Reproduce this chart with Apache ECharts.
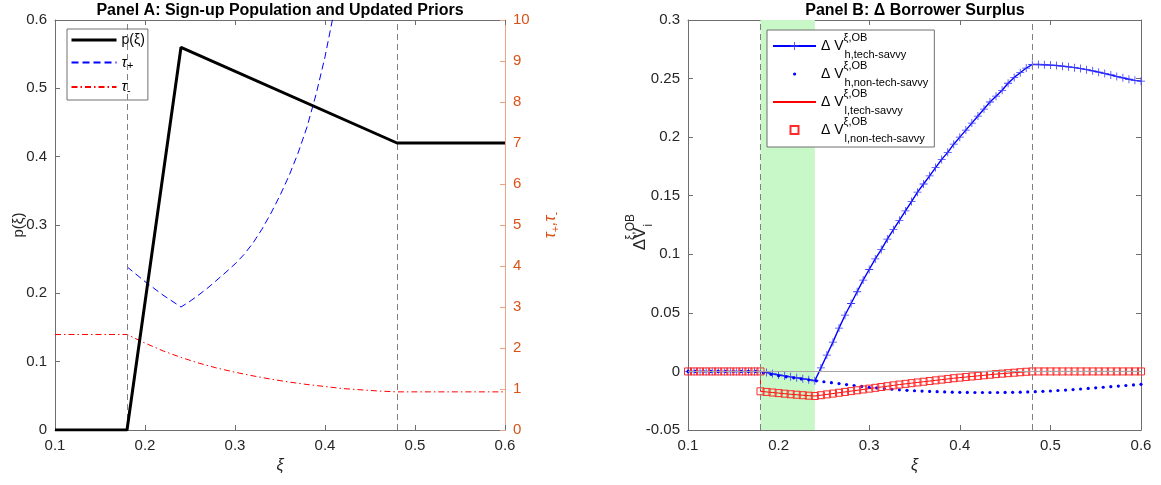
<!DOCTYPE html>
<html>
<head>
<meta charset="utf-8">
<script src="https://cdn.jsdelivr.net/npm/echarts@6/dist/echarts.min.js"></script>
<style>html,body{margin:0;padding:0;background:#fff;}#c{width:1161px;height:485px;}</style>
</head>
<body>
<div id="c"></div>
<script>
// ---------- Panel A data ----------
const xiP = [0.1, 0.18, 0.24, 0.48, 0.6];
const pVals = [0, 0, 0.56, 0.42, 0.42];

const xiTauPlus = [0.18, 0.20, 0.22, 0.24, 0.25, 0.26, 0.27, 0.28, 0.29, 0.30, 0.31, 0.32, 0.33, 0.34, 0.35, 0.36, 0.37, 0.38, 0.39, 0.40, 0.41, 0.42];
const tauPlus   = [3.98, 3.62, 3.29, 3.00, 3.14, 3.30, 3.47, 3.66, 3.85, 4.05, 4.28, 4.56, 4.90, 5.29, 5.72, 6.20, 6.75, 7.39, 8.18, 9.10, 10.2, 11.5];

const xiTauMinus = [0.1, 0.18, 0.20, 0.22, 0.24, 0.26, 0.28, 0.30, 0.32, 0.34, 0.36, 0.38, 0.40, 0.42, 0.44, 0.46, 0.48, 0.6];
const tauMinus   = [2.33, 2.33, 2.12, 1.93, 1.77, 1.63, 1.51, 1.41, 1.32, 1.24, 1.17, 1.11, 1.06, 1.01, 0.98, 0.95, 0.93, 0.93];

const cutoffs = [0.18, 0.48];
const shaded = [0.18, 0.24];

// ---------- Panel B data ----------
const xiB = [0.1, 0.1067, 0.1133, 0.12, 0.1267, 0.1333, 0.14, 0.1467, 0.1533, 0.16, 0.1667, 0.1733, 0.18,
  0.1867, 0.1933, 0.2, 0.2067, 0.2133, 0.22, 0.2267, 0.2333, 0.24,
  0.2467, 0.2533, 0.26, 0.2667, 0.2733, 0.28, 0.2867, 0.2933, 0.3, 0.3067, 0.3133, 0.32, 0.3267, 0.3333, 0.34,
  0.3467, 0.3533, 0.36, 0.3667, 0.3733, 0.38, 0.3867, 0.3933, 0.4, 0.4067, 0.4133, 0.42, 0.4267, 0.4333, 0.44,
  0.4467, 0.4533, 0.46, 0.4667, 0.4733, 0.48,
  0.4867, 0.4933, 0.5, 0.5067, 0.5133, 0.52, 0.5267, 0.5333, 0.54, 0.5467, 0.5533, 0.56, 0.5667, 0.5733, 0.58,
  0.5867, 0.5933, 0.6];

const hTech = [0, 0, 0, 0, 0, 0, 0, 0, 0, 0, 0, 0, 0,
  -0.0010, -0.0020, -0.0030, -0.0038, -0.0046, -0.0054, -0.0062, -0.0070, -0.0080,
  0.003, 0.014, 0.025, 0.037, 0.048, 0.058, 0.068, 0.078, 0.087, 0.096, 0.104, 0.113, 0.121, 0.129, 0.137,
  0.145, 0.153, 0.160, 0.167, 0.174, 0.181, 0.187, 0.194, 0.200, 0.206, 0.212, 0.218, 0.224, 0.230, 0.235,
  0.240, 0.246, 0.251, 0.255, 0.259, 0.262,
  0.2620, 0.2618, 0.2615, 0.2611, 0.2606, 0.2600, 0.2593, 0.2585, 0.2576, 0.2566, 0.2555, 0.2543, 0.2531,
  0.2518, 0.2506, 0.2494, 0.2485, 0.2478];

// l-type series: the jump at 0.18 has two values (0 and -0.017)
const xiL = xiB.slice(0, 13).concat(xiB.slice(12));
const lTech = [0, 0, 0, 0, 0, 0, 0, 0, 0, 0, 0, 0, 0,
  -0.0170,
  -0.0175, -0.0180, -0.0185, -0.0190, -0.0195, -0.0199, -0.0203, -0.0207, -0.0210,
  -0.0203, -0.0196, -0.0189, -0.0182, -0.0175, -0.0168, -0.0161, -0.0154, -0.0147, -0.0140, -0.0133, -0.0126,
  -0.0119, -0.0112, -0.0106, -0.0100, -0.0094, -0.0088, -0.0082, -0.0076, -0.0070, -0.0064, -0.0058, -0.0053,
  -0.0048, -0.0043, -0.0038, -0.0033, -0.0028, -0.0023, -0.0019, -0.0015, -0.0011, -0.0007, -0.0003, 0,
  0, 0, 0, 0, 0, 0, 0, 0, 0, 0, 0, 0, 0, 0, 0, 0, 0, 0];
const lNonTech = lTech;

const xiD = [0.1, 0.1083, 0.1167, 0.125, 0.1333, 0.1417, 0.15, 0.1583, 0.1667, 0.175, 0.1833, 0.1917, 0.2,
  0.2083, 0.2167, 0.225, 0.2333, 0.2417, 0.25, 0.2583, 0.2667, 0.275, 0.2833, 0.2917, 0.3, 0.3083, 0.3167,
  0.325, 0.3333, 0.3417, 0.35, 0.3583, 0.3667, 0.375, 0.3833, 0.3917, 0.4, 0.4083, 0.4167, 0.425, 0.4333,
  0.4417, 0.45, 0.4583, 0.4667, 0.475, 0.4833, 0.4917, 0.5, 0.5083, 0.5167, 0.525, 0.5333, 0.5417, 0.55,
  0.5583, 0.5667, 0.575, 0.5833, 0.5917, 0.6];
const hNonTech = [0, 0, 0, 0, 0, 0, 0, 0, 0, 0, -0.0013, -0.0025, -0.0036,
  -0.0046, -0.0055, -0.0064, -0.0072, -0.0080, -0.0088, -0.0096, -0.0104, -0.0112, -0.0120, -0.0128, -0.0135, -0.0141, -0.0147,
  -0.0152, -0.0157, -0.0161, -0.0165, -0.0168, -0.0171, -0.0173, -0.0175, -0.0177, -0.0178, -0.0179, -0.0180, -0.0180, -0.0180,
  -0.0180, -0.0179, -0.0178, -0.0177, -0.0175, -0.0173, -0.0170, -0.0167, -0.0163, -0.0159, -0.0155, -0.0150, -0.0145, -0.0140,
  -0.0135, -0.0130, -0.0125, -0.0120, -0.0115, -0.0110];

// ---------- helpers / styles ----------
const pairs = (xs, ys) => xs.map((x, i) => [x, ys[i]]);
const FONT = '"Liberation Sans", Arial, Helvetica, sans-serif';
const AX = '#6e6e6e';
const TXT = '#262626';
const ORANGE = '#D95319';
const crossPath = 'path://M4.5,0h1v10h-1zM0,4.5h10v1h-10z';

function xAx(grid, pos, showLabel, name) {
  return {
    type: 'value', gridIndex: grid, position: pos, min: 0.1, max: 0.6, interval: 0.1,
    axisLine: { show: true, onZero: false, lineStyle: { color: AX, width: 1 } },
    axisTick: { show: true, inside: true, length: 5, lineStyle: { color: AX } },
    axisLabel: { show: showLabel, color: TXT, fontSize: 15, fontFamily: FONT, margin: 8 },
    splitLine: { show: false },
    name: name || '', nameLocation: 'middle', nameGap: 28, nameMoveOverlap: false,
    nameTextStyle: { color: TXT, fontSize: 16, fontStyle: 'italic', fontFamily: FONT }
  };
}
function yAx(grid, pos, min, max, interval, showLabel, color, lineColor, name, gap, rich, nameSize) {
  return {
    type: 'value', gridIndex: grid, position: pos, min: min, max: max, interval: interval,
    axisLine: { show: true, onZero: false, lineStyle: { color: lineColor, width: 1 } },
    axisTick: { show: true, inside: true, length: 5, lineStyle: { color: lineColor } },
    axisLabel: { show: showLabel, color: color, fontSize: 15, fontFamily: FONT, margin: 8 },
    splitLine: { show: false },
    name: name || '', nameLocation: 'middle', nameGap: gap || 30, nameRotate: 90, nameMoveOverlap: false,
    nameTextStyle: { color: color, fontSize: nameSize || 15, fontFamily: FONT, rich: rich || {} }
  };
}

const legendNamesA = { p: 'p(ξ)', tauPlus: '{t|τ}{s|+}', tauMinus: '{t|τ}{s|-}' };
const legendSubB = { hTech: 'h,tech-savvy', hNonTech: 'h,non-tech-savvy', lTech: 'l,tech-savvy', lNonTech: 'l,non-tech-savvy' };
const hideSym = { opacity: 0 };

const chart = echarts.init(document.getElementById('c'), null, { renderer: 'canvas' });
chart.setOption({
  animation: false,
  backgroundColor: '#fff',
  textStyle: { fontFamily: FONT },
  title: [
    { text: 'Panel A: Sign-up Population and Updated Priors', left: 280, top: 3, textAlign: 'center', padding: 0,
      textStyle: { fontSize: 16, fontWeight: 'bold', color: '#000', fontFamily: FONT } },
    { text: 'Panel B: Δ Borrower Surplus', left: 915, top: 3, textAlign: 'center', padding: 0,
      textStyle: { fontSize: 16, fontWeight: 'bold', color: '#000', fontFamily: FONT } }
  ],
  grid: [
    { left: 55, right: 656, top: 20, bottom: 55, containLabel: false },
    { left: 688, right: 20, top: 20, bottom: 55, containLabel: false }
  ],
  xAxis: [xAx(0, 'bottom', true, 'ξ'), xAx(0, 'top', false), xAx(1, 'bottom', true, 'ξ'), xAx(1, 'top', false)],
  yAxis: [
    yAx(0, 'left', 0, 0.6, 0.1, true, TXT, AX, 'p(ξ)', 29),
    yAx(0, 'right', 0, 10, 1, true, ORANGE, '#E9A385', '{t|τ}{s|+}{t|,τ}{s|-}', 36,
      { t: { fontSize: 16, color: ORANGE, fontStyle: 'italic', lineHeight: 20 },
        s: { fontSize: 11, color: ORANGE, verticalAlign: 'bottom', lineHeight: 8 } }),
    yAx(1, 'left', -0.05, 0.3, 0.05, true, TXT, AX, '{m|ΔV}{sup|ξ,OB}{sub|i}', 33,
      { m: { fontSize: 17, color: TXT, lineHeight: 30, verticalAlign: 'middle' },
        sup: { fontSize: 12, color: TXT, lineHeight: 15, verticalAlign: 'top', width: 1 },
        sub: { fontSize: 12, color: TXT, lineHeight: 13, verticalAlign: 'bottom', padding: [0, 24, 0, 0] } }),
    yAx(1, 'right', -0.05, 0.3, 0.05, false, TXT, AX)
  ],
  legend: [
    {
      left: 67, top: 29, orient: 'vertical',
      data: [{ name: 'p', itemStyle: hideSym, lineStyle: { width: 3 } },
             { name: 'tauPlus', itemStyle: hideSym }, { name: 'tauMinus', itemStyle: hideSym }],
      formatter: n => legendNamesA[n],
      itemWidth: 45, itemHeight: 14, itemGap: 8,
      padding: [4, 3, 4, 3], borderColor: '#707070', borderWidth: 1, backgroundColor: '#fff',
      selectedMode: false,
      textStyle: { fontSize: 14, color: '#000', fontFamily: FONT,
        rich: { t: { fontSize: 15, fontStyle: 'italic', color: '#000', lineHeight: 18, verticalAlign: 'middle' },
                s: { fontSize: 11, color: '#000', verticalAlign: 'bottom', lineHeight: 6 } } }
    },
    {
      left: 767, top: 30, orient: 'vertical',
      data: ['hTech',
             { name: 'hNonTech', icon: 'path://M0,0L0,0M43,10L43,10M20,5a1.6,1.6 0 1,0 3.2,0a1.6,1.6 0 1,0 -3.2,0z' },
             { name: 'lTech', itemStyle: hideSym }, 'lNonTech'],
      formatter: n => '{m|Δ V}{sup|ξ,OB}{sub|' + legendSubB[n] + '}',
      itemWidth: 43, itemHeight: 10, itemGap: 0,
      padding: [2, 6, 3, 5], borderColor: '#707070', borderWidth: 1, backgroundColor: '#fff',
      selectedMode: false,
      textStyle: { fontSize: 13, color: '#000', fontFamily: FONT,
        rich: { m: { fontSize: 14, color: '#000', lineHeight: 28, verticalAlign: 'middle' },
                sup: { fontSize: 11, color: '#000', lineHeight: 14, verticalAlign: 'top', width: 1 },
                sub: { fontSize: 11, color: '#000', lineHeight: 12, verticalAlign: 'bottom' } } }
    }
  ],
  series: [
    { name: 'p', type: 'line', xAxisIndex: 0, yAxisIndex: 0, data: pairs(xiP, pVals),
      symbol: 'none', lineStyle: { color: '#000', width: 3 }, itemStyle: { color: '#000' }, z: 5,
      markLine: { silent: true, symbol: 'none', label: { show: false },
        lineStyle: { color: '#808080', width: 1, type: [6, 4] },
        data: cutoffs.map(c => ({ xAxis: c })) } },
    { name: 'tauPlus', type: 'line', xAxisIndex: 0, yAxisIndex: 1, data: pairs(xiTauPlus, tauPlus),
      symbol: 'none', lineStyle: { color: '#0000ff', width: 1, type: [7, 4] }, itemStyle: { color: '#0000ff' }, z: 4 },
    { name: 'tauMinus', type: 'line', xAxisIndex: 0, yAxisIndex: 1, data: pairs(xiTauMinus, tauMinus),
      symbol: 'none', lineStyle: { color: '#ff0000', width: 1, type: [6, 3, 1.5, 3] }, itemStyle: { color: '#ff0000' }, z: 4 },

    { name: 'hTech', type: 'line', xAxisIndex: 2, yAxisIndex: 2, data: pairs(xiB, hTech),
      symbol: crossPath, symbolSize: 8, showSymbol: true,
      lineStyle: { color: '#0000ff', width: 1.4 }, itemStyle: { color: '#3a3aff' }, z: 4,
      markArea: { silent: true, itemStyle: { color: '#c8f7c8' },
        data: [[{ xAxis: shaded[0] }, { xAxis: shaded[1] }]] },
      markLine: { silent: true, symbol: 'none', label: { show: false },
        data: [
          { xAxis: cutoffs[0], lineStyle: { color: '#808080', width: 1, type: [6, 4] } },
          { xAxis: cutoffs[1], lineStyle: { color: '#808080', width: 1, type: [6, 4] } },
          { yAxis: 0, lineStyle: { color: '#a6a6a6', width: 1.2, type: 'solid' } }
        ] } },
    { name: 'hNonTech', type: 'line', xAxisIndex: 2, yAxisIndex: 2, data: pairs(xiD, hNonTech),
      symbol: 'circle', symbolSize: 3.2, showSymbol: true,
      lineStyle: { width: 0, opacity: 0 }, itemStyle: { color: '#0000ff' }, z: 4 },
    { name: 'lTech', type: 'line', xAxisIndex: 2, yAxisIndex: 2, data: pairs(xiL, lTech),
      symbol: 'none', lineStyle: { color: '#ff0000', width: 1 }, itemStyle: { color: '#ff0000' }, z: 4 },
    { name: 'lNonTech', type: 'line', xAxisIndex: 2, yAxisIndex: 2, data: pairs(xiL, lNonTech),
      symbol: 'rect', symbolSize: 7, showSymbol: true,
      lineStyle: { width: 0, opacity: 0 },
      itemStyle: { color: 'rgba(255,255,255,0)', borderColor: '#ff2a2a', borderWidth: 1 }, z: 4 }
  ]
});
</script>
</body>
</html>
